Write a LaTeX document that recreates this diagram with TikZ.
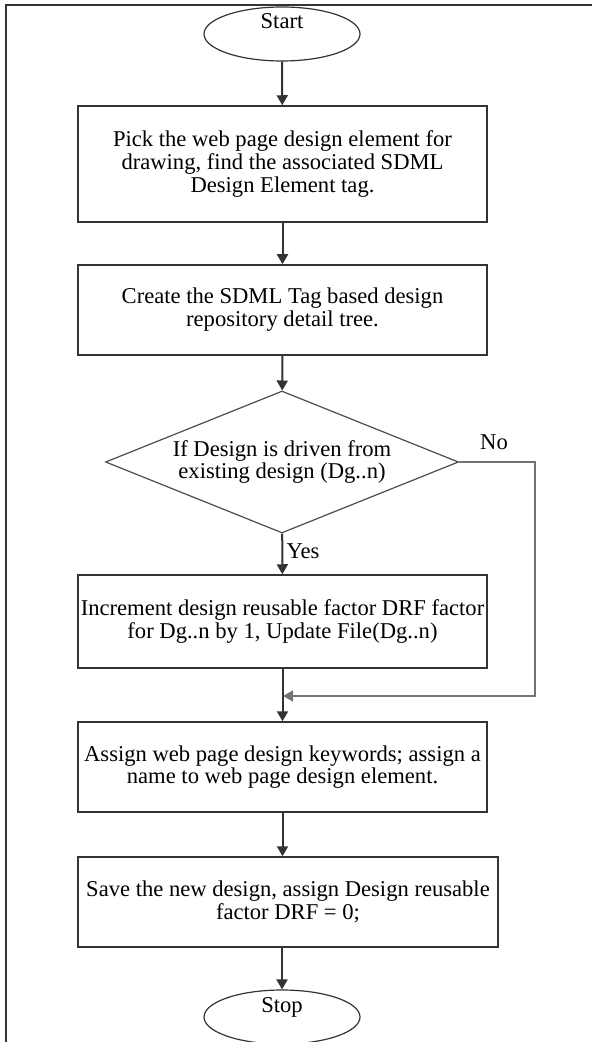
\documentclass[tikz,border=0pt]{standalone}
\usepackage{fontspec}
\setmainfont{Liberation Serif}
\usetikzlibrary{shapes.geometric}
\usetikzlibrary{arrows.meta}

\begin{document}
\begin{tikzpicture}[x=0.5pt,y=-0.5pt,
        font=\fontsize{11.3}{11.4}\selectfont,
        box/.style={rectangle,draw=black!80,line width=0.75pt,inner sep=0pt,align=center,minimum width=204.5pt,minimum height=45pt,execute at begin node=\rule{0pt}{15pt}},
        term/.style={ellipse,draw=black!80,line width=0.6pt,inner sep=0pt,minimum width=78pt,minimum height=27pt,text height=7pt,text depth=12pt},
        decide/.style={diamond,draw=black!70,line width=0.6pt,inner sep=0pt,aspect=2.5,align=center,minimum width=176.5pt,minimum height=71pt,execute at begin node=\rule{0pt}{14pt}},
        arr/.style={draw=black!80,line width=1pt,-{Triangle[width=5.5pt,length=5pt]}}]

            %\draw [help lines] (0,0) grid (592,1042);
            \useasboundingbox (0,0) rectangle (592,1042);
            \draw[line width=1.2pt,black!80] (6,1042) -- (6,5) -- (592,5);

            \path   (282,34) node (start) [term] {Start}
                    (282.5,164) node (pick) [box,minimum height=58pt] {Pick the web page design element for\\drawing, find the associated SDML\\Design Element tag.}
                    (282.5,310) node (tree) [box] {Create the SDML Tag based design\\repository detail tree.}
                    (282,462) node (check) [decide] {If Design is driven from\\existing design (Dg..n)}
                    (282.5,621.5) node (incr) [box,minimum height=46.5pt] {Increment design reusable factor DRF factor\\for Dg..n by 1, Update File(Dg..n)}
                    (282.5,767) node (keys) [box] {Assign web page design keywords; assign a\\name to web page design element.}
                    (288,902) node (save) [box,minimum width=210pt] {Save the new design, assign Design reusable\\factor DRF = 0;}
                    (282,1017) node (stop) [term] {Stop}
                    (303,551) node (yes) {Yes}
                    (494,442) node (no) {No};

            \coordinate (turn) at (535,696);
            \coordinate (merge) at (283,696);

            \draw[arr] (node cs: name =start) -- (node cs: name =pick);
            \draw[arr] (node cs: name =pick) -- (node cs: name =tree);
            \draw[arr] (node cs: name =tree) -- (node cs: name =check);
            \draw[arr] (node cs: name =check) -- (node cs: name =incr);
            \draw[arr] (node cs: name =incr) -- (node cs: name =keys);
            \draw[arr] (keys.south) -- (keys.south |- save.north);
            \draw[arr] (save.south -| stop.north) -- (stop.north);
            \draw[arr,draw=black!55,line width=0.75pt] (check.east) -| (turn) -- (merge);
        \end{tikzpicture}
\end{document}
